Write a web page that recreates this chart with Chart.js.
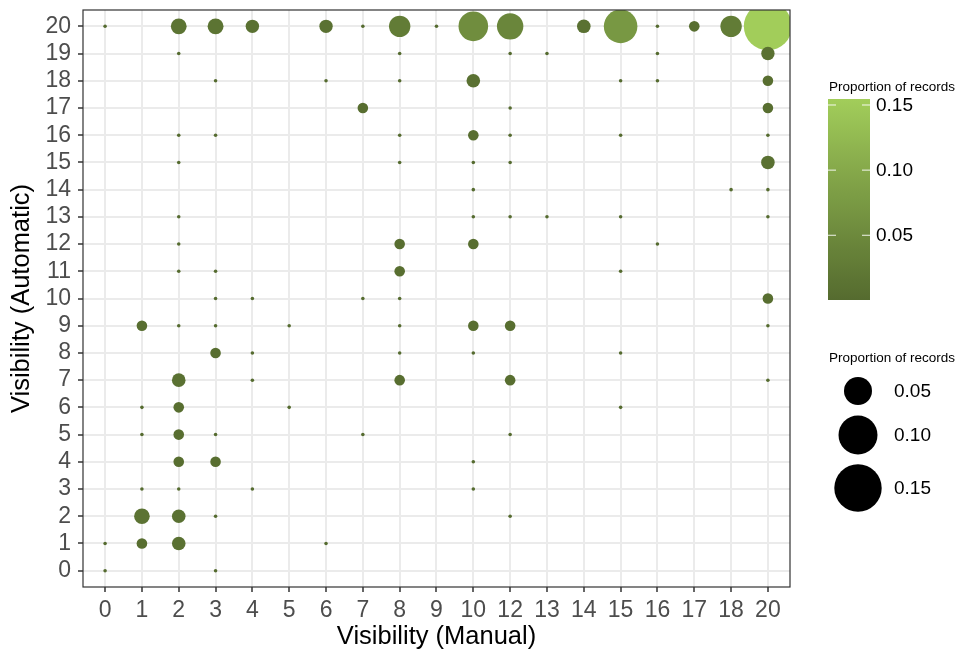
<!DOCTYPE html>
<html>
<head>
<meta charset="utf-8">
<script src="https://cdn.jsdelivr.net/npm/chart.js@4.4.1/dist/chart.umd.min.js"></script>
<style>
  html, body { margin: 0; padding: 0; background: #ffffff; }
  #wrap { width: 962px; height: 658px; }
</style>
</head>
<body>
<div id="wrap"><canvas id="chart" width="962" height="658"></canvas></div>
<script>
// Manual visibility categories present in the records (no 11 or 19)
const manualLabels = ['0', '1', '2', '3', '4', '5', '6', '7', '8', '9', '10', '12', '13', '14', '15', '16', '17', '18', '20'];
// Automatic visibility tick labels
const autoLabels = ['0', '1', '2', '3', '4', '5', '6', '7', '8', '9', '10', '11', '12', '13', '14', '15', '16', '17', '18', '19', '20'];
// Legend break values
const legendBreaks = [0.05, 0.10, 0.15];

// One entry per (manual, automatic) pair: share of all records
const manualVis = [
  '0', '2', '3', '4', '6', '7', '8', '9', '10', '12', '14', '15', '16', '17', '18', '20',
  '2', '8', '12', '13', '16', '20',
  '3', '6', '8', '10', '15', '16', '20',
  '7', '12', '20',
  '2', '3', '8', '10', '12', '15', '20',
  '2', '8', '10', '12', '20',
  '10', '18', '20',
  '2', '10', '12', '13', '15', '20',
  '2', '8', '10', '16',
  '2', '3', '8', '15',
  '3', '4', '7', '8', '20',
  '1', '2', '3', '5', '8', '10', '12', '20',
  '3', '4', '8', '10', '15',
  '2', '4', '8', '12', '20',
  '1', '2', '5', '15',
  '1', '2', '3', '7', '12',
  '2', '3', '10',
  '1', '2', '4', '10',
  '1', '2', '3', '12',
  '0', '1', '2', '6',
  '0', '3'
];
const autoVis = [
  20, 20, 20, 20, 20, 20, 20, 20, 20, 20, 20, 20, 20, 20, 20, 20,
  19, 19, 19, 19, 19, 19,
  18, 18, 18, 18, 18, 18, 18,
  17, 17, 17,
  16, 16, 16, 16, 16, 16, 16,
  15, 15, 15, 15, 15,
  14, 14, 14,
  13, 13, 13, 13, 13, 13,
  12, 12, 12, 12,
  11, 11, 11, 11,
  10, 10, 10, 10, 10,
  9, 9, 9, 9, 9, 9, 9, 9,
  8, 8, 8, 8, 8,
  7, 7, 7, 7, 7,
  6, 6, 6, 6,
  5, 5, 5, 5, 5,
  4, 4, 4,
  3, 3, 3, 3,
  2, 2, 2, 2,
  1, 1, 1, 1,
  0, 0
];
const proportion = [
  0.0003, 0.0145, 0.0148, 0.0101, 0.0101, 0.0003, 0.0282, 0.0003, 0.0562, 0.0441, 0.0104, 0.0733, 0.0003, 0.0059, 0.0282, 0.1546,
  0.0003, 0.0003, 0.0003, 0.0003, 0.0003, 0.0101,
  0.0003, 0.0003, 0.0003, 0.0104, 0.0003, 0.0003, 0.0059,
  0.0059, 0.0003, 0.0059,
  0.0003, 0.0003, 0.0003, 0.0059, 0.0003, 0.0003, 0.0003,
  0.0003, 0.0003, 0.0003, 0.0003, 0.0104,
  0.0003, 0.0003, 0.0003,
  0.0003, 0.0003, 0.0003, 0.0003, 0.0003, 0.0003,
  0.0003, 0.0059, 0.0059, 0.0003,
  0.0003, 0.0003, 0.0059, 0.0003,
  0.0003, 0.0003, 0.0003, 0.0003, 0.0059,
  0.0059, 0.0003, 0.0003, 0.0003, 0.0003, 0.0059, 0.0059, 0.0003,
  0.0059, 0.0003, 0.0003, 0.0003, 0.0003,
  0.0104, 0.0003, 0.0059, 0.0059, 0.0003,
  0.0003, 0.0059, 0.0003, 0.0003,
  0.0003, 0.0059, 0.0003, 0.0003, 0.0003,
  0.0059, 0.0059, 0.0003,
  0.0003, 0.0003, 0.0003, 0.0003,
  0.0142, 0.0104, 0.0003, 0.0003,
  0.0003, 0.0059, 0.0104, 0.0003,
  0.0003, 0.0003
];

const FONT = "'Liberation Sans', Arial, Helvetica, sans-serif";
const vMin = Math.min(...proportion);
const vMax = Math.max(...proportion);

// Bubble radius grows with the square root of the proportion (area scale)
function radiusFor(v) { return 0.74 + 59.3 * Math.sqrt(v); }

// Colour ramp interpolated in CIE Lab between two olive greens
const LOW = '#556B2F', HIGH = '#A2CD5A';
function hexToRgb(h) { return [1, 3, 5].map(i => parseInt(h.substr(i, 2), 16)); }
function srgbToLin(c) { c /= 255; return c <= 0.04045 ? c / 12.92 : Math.pow((c + 0.055) / 1.055, 2.4); }
function linToSrgb(c) { c = c <= 0.0031308 ? 12.92 * c : 1.055 * Math.pow(c, 1 / 2.4) - 0.055; return Math.round(Math.min(1, Math.max(0, c)) * 255); }
function rgbToLab(rgb) {
  const [r, g, b] = rgb.map(srgbToLin);
  let x = (0.4124 * r + 0.3576 * g + 0.1805 * b) / 0.95047;
  let y = (0.2126 * r + 0.7152 * g + 0.0722 * b);
  let z = (0.0193 * r + 0.1192 * g + 0.9505 * b) / 1.08883;
  const f = t => t > 0.008856 ? Math.cbrt(t) : 7.787 * t + 16 / 116;
  x = f(x); y = f(y); z = f(z);
  return [116 * y - 16, 500 * (x - y), 200 * (y - z)];
}
function labToRgb(lab) {
  const fy = (lab[0] + 16) / 116, fx = fy + lab[1] / 500, fz = fy - lab[2] / 200;
  const inv = t => t * t * t > 0.008856 ? t * t * t : (t - 16 / 116) / 7.787;
  const x = inv(fx) * 0.95047, y = inv(fy), z = inv(fz) * 1.08883;
  const r = 3.2406 * x - 1.5372 * y - 0.4986 * z;
  const g = -0.9689 * x + 1.8758 * y + 0.0415 * z;
  const b = 0.0557 * x - 0.2040 * y + 1.0570 * z;
  return [r, g, b].map(linToSrgb);
}
const labLow = rgbToLab(hexToRgb(LOW)), labHigh = rgbToLab(hexToRgb(HIGH));
function rampColor(t) {
  t = Math.min(1, Math.max(0, t));
  const lab = labLow.map((c, i) => c + (labHigh[i] - c) * t);
  const [r, g, b] = labToRgb(lab);
  return `rgb(${r},${g},${b})`;
}
function colorFor(v) { return rampColor((v - vMin) / (vMax - vMin)); }

const points = proportion.map((v, i) => ({
  x: manualLabels.indexOf(manualVis[i]),
  y: autoVis[i],
  v: v
}));

// Panel border drawn over the bubbles
const panelBorder = {
  id: 'panelBorder',
  afterDatasetsDraw(chart) {
    const { ctx, chartArea: a } = chart;
    ctx.save();
    ctx.strokeStyle = '#333333';
    ctx.lineWidth = 1.2;
    ctx.strokeRect(a.left, a.top, a.right - a.left, a.bottom - a.top);
    ctx.restore();
  }
};

// Colour bar and size key on the right
const keys = {
  id: 'keys',
  afterDraw(chart) {
    const { ctx } = chart;
    ctx.save();
    // colour bar
    const barL = 828, barW = 42, barTop = 99, barBot = 300;
    const grad = ctx.createLinearGradient(0, barBot, 0, barTop);
    for (let k = 0; k <= 20; k++) grad.addColorStop(k / 20, rampColor(k / 20));
    ctx.fillStyle = grad;
    ctx.fillRect(barL, barTop, barW, barBot - barTop);
    ctx.fillStyle = '#000000';
    ctx.font = `13.5px ${FONT}`;
    ctx.textAlign = 'left';
    ctx.textBaseline = 'alphabetic';
    ctx.fillText('Proportion of records', 829, 91);
    ctx.font = `19px ${FONT}`;
    ctx.textBaseline = 'middle';
    legendBreaks.forEach(b => {
      const y = barBot - (b - vMin) / (vMax - vMin) * (barBot - barTop);
      ctx.strokeStyle = 'rgba(255,255,255,0.9)';
      ctx.lineWidth = 1;
      ctx.beginPath();
      ctx.moveTo(barL, y); ctx.lineTo(barL + 8, y);
      ctx.moveTo(barL + barW - 8, y); ctx.lineTo(barL + barW, y);
      ctx.stroke();
      ctx.fillStyle = '#000000';
      ctx.fillText(b.toFixed(2), 876, y + 1);
    });
    // size key
    ctx.font = `13.5px ${FONT}`;
    ctx.textBaseline = 'alphabetic';
    ctx.fillText('Proportion of records', 829, 362);
    const centers = [391, 435, 488];
    ctx.font = `19px ${FONT}`;
    ctx.textBaseline = 'middle';
    legendBreaks.forEach((b, i) => {
      ctx.fillStyle = '#000000';
      ctx.beginPath();
      ctx.arc(858, centers[i], radiusFor(b), 0, Math.PI * 2);
      ctx.fill();
      ctx.fillText(b.toFixed(2), 894, centers[i] + 1);
    });
    ctx.restore();
  }
};

new Chart(document.getElementById('chart'), {
  type: 'bubble',
  data: {
    datasets: [{
      data: points,
      clip: 0,
      borderWidth: 0,
      radius: ctx => radiusFor(ctx.raw.v),
      hoverRadius: 0,
      backgroundColor: ctx => colorFor(ctx.raw.v),
      borderColor: 'rgba(0,0,0,0)'
    }]
  },
  options: {
    responsive: false,
    animation: false,
    devicePixelRatio: 1,
    layout: { autoPadding: false, padding: { left: 0, top: 10, right: 172, bottom: 0 } },
    plugins: { legend: { display: false }, tooltip: { enabled: false } },
    scales: {
      x: {
        type: 'linear',
        min: -0.6,
        max: manualLabels.length - 0.4,
        afterBuildTicks: s => { s.ticks = manualLabels.map((_, i) => ({ value: i })); },
        afterFit: s => { s.height = 71; s.paddingLeft = 0; s.paddingRight = 0; },
        ticks: {
          autoSkip: false, maxRotation: 0, minRotation: 0,
          color: '#4D4D4D', padding: 5,
          font: { family: FONT, size: 23 },
          callback: v => manualLabels[v]
        },
        grid: { color: '#EBEBEB', lineWidth: 2, tickColor: '#333333', tickLength: 5, tickWidth: 1.5 },
        border: { display: false },
        title: {
          display: true, text: 'Visibility (Manual)', color: '#000000',
          font: { family: FONT, size: 25.5 }, padding: { top: 0, bottom: 6 }
        }
      },
      y: {
        type: 'linear',
        min: -0.6,
        max: autoLabels.length - 0.4,
        afterBuildTicks: s => { s.ticks = autoLabels.map((_, i) => ({ value: i })); },
        afterFit: s => { s.width = 83; s.paddingTop = 0; s.paddingBottom = 0; },
        ticks: {
          autoSkip: false, color: '#4D4D4D', padding: 7,
          font: { family: FONT, size: 23 },
          callback: v => autoLabels[v]
        },
        grid: { color: '#EBEBEB', lineWidth: 2, tickColor: '#333333', tickLength: 5, tickWidth: 1.5 },
        border: { display: false },
        title: {
          display: true, text: 'Visibility (Automatic)', color: '#000000',
          font: { family: FONT, size: 25.5 }, padding: { top: 7, bottom: 0 }
        }
      }
    }
  },
  plugins: [panelBorder, keys]
});
</script>
</body>
</html>
